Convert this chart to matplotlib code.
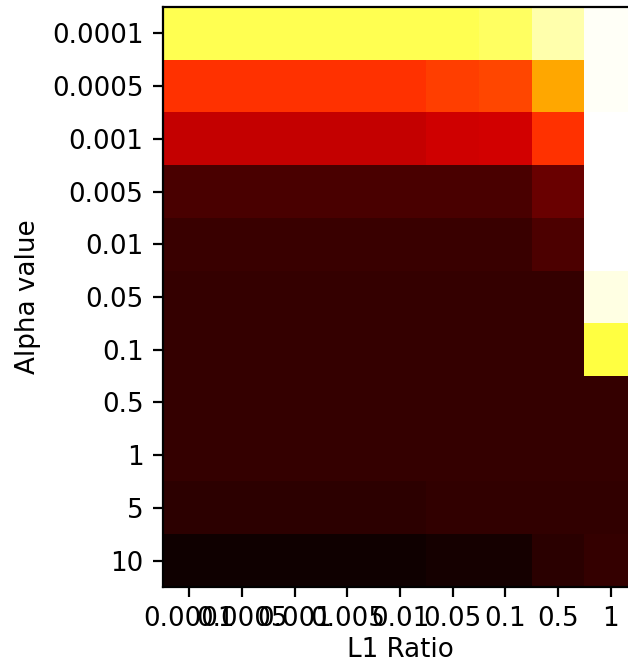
import numpy as np
import matplotlib
matplotlib.use("Agg")
import matplotlib.pyplot as plt

alpha_labels = ["0.0001", "0.0005", "0.001", "0.005", "0.01", "0.05", "0.1", "0.5", "1", "5", "10"]
l1_labels = ["0.0001", "0.0005", "0.001", "0.005", "0.01", "0.05", "0.1", "0.5", "1"]

row_0001 = [0.825, 0.825, 0.825, 0.825, 0.826, 0.828, 0.84, 0.916, 0.99]
row_0005 = [0.438, 0.438, 0.438, 0.438, 0.438, 0.46, 0.47, 0.615, 0.99]
row_001 = [0.279, 0.279, 0.279, 0.279, 0.281, 0.293, 0.30, 0.438, 1.0]
row_005 = [0.097, 0.097, 0.097, 0.097, 0.097, 0.097, 0.097, 0.143, 1.0]
row_01 = [0.0716, 0.0716, 0.0716, 0.0716, 0.0716, 0.0716, 0.0716, 0.10, 1.0]
row_05 = [0.064, 0.064, 0.064, 0.064, 0.064, 0.064, 0.064, 0.064, 0.97]
row_1 = [0.064, 0.064, 0.064, 0.064, 0.064, 0.064, 0.064, 0.064, 0.81]
row_5 = [0.064, 0.064, 0.064, 0.064, 0.064, 0.064, 0.064, 0.064, 0.064]
row_10 = [0.064, 0.064, 0.064, 0.064, 0.064, 0.064, 0.064, 0.064, 0.064]
row_50 = [0.053, 0.053, 0.053, 0.053, 0.053, 0.062, 0.062, 0.062, 0.062]
row_100 = [0.011, 0.011, 0.011, 0.011, 0.011, 0.016, 0.016, 0.05, 0.064]

scores = np.array([row_0001, row_0005, row_001, row_005, row_01, row_05,
                   row_1, row_5, row_10, row_50, row_100])

fig = plt.figure(figsize=(6.28 / 2, 6.65 / 2), dpi=200)
ax = fig.add_axes([163 / 628, 78 / 665, 474 / 628, 580 / 665])
ax.imshow(scores, cmap="hot", vmin=0, vmax=1, aspect="auto", interpolation="nearest")
ax.set_xticks(np.arange(len(l1_labels)))
ax.set_xticklabels(l1_labels, fontsize=9.4)
ax.set_yticks(np.arange(len(alpha_labels)))
ax.set_yticklabels(alpha_labels, fontsize=9.4)
ax.tick_params(length=3.5, width=0.8, pad=3.5)
ax.set_xlabel("L1 Ratio", fontsize=9.4, labelpad=1.5)
ax.set_ylabel("Alpha value", fontsize=9.4, labelpad=4)
fig.savefig("out.png", dpi=200)
